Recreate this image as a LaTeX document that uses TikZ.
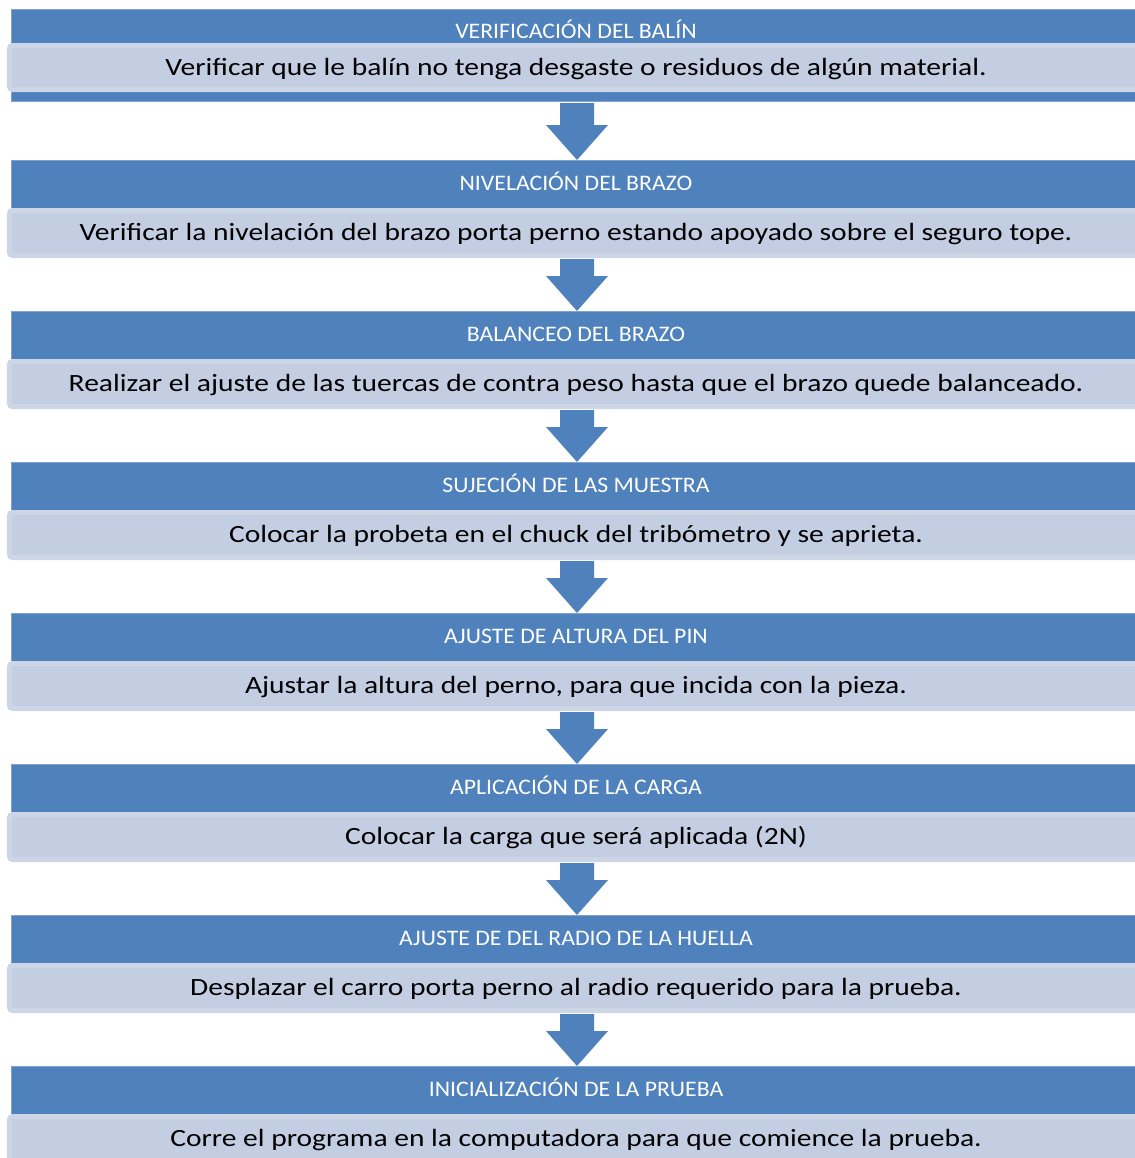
\documentclass[tikz,border=0pt]{standalone}
\usepackage{fontspec}
\setmainfont{Carlito}
\usetikzlibrary{calc}
\definecolor{darkblue}{HTML}{4F81BD}
\definecolor{barline}{HTML}{7FA3D0}
\definecolor{lightfill}{HTML}{C3CEE2}
\definecolor{lightedge}{HTML}{CDD6E7}
\newcommand\hdrfmt[1]{\scalebox{1.07}[1]{\fontsize{22.2bp}{24bp}\selectfont #1}}
\newcommand\bodyfmt[1]{\scalebox{1.19}[1]{\fontsize{24.8bp}{27bp}\selectfont #1}}
\tikzset{
  barbox/.style={fill=darkblue, draw=barline, line width=0.8bp, minimum width=1130bp, inner sep=0pt, outer sep=0pt},
  hdrtext/.style={text=white, inner sep=0pt, anchor=base},
  bodybox/.style={fill=lightfill, draw=lightedge, line width=5bp, rounded corners=3bp, minimum width=1133bp, minimum height=45bp, inner sep=0pt, outer sep=0pt},
  bodytext/.style={text=black, inner sep=0pt, anchor=base},
}
\newcommand\blockarrow[2]{%
  \fill[darkblue] let \p1=(#1), \p2=(#2) in
    (\x1-17bp,\y1) -- (\x1+17bp,\y1) -- (\x1+17bp,\y2+35bp) -- (\x1+31bp,\y2+35bp)
    -- (\x1,\y2) -- (\x1-31bp,\y2+35bp) -- (\x1-17bp,\y2+35bp) -- cycle;}
\begin{document}
\begin{tikzpicture}[x=1bp,y=-1bp]
\useasboundingbox (0,0) rectangle (1135,1158);
\clip (0,0) rectangle (1135,1158);
% block 1
\node[barbox, minimum height=92bp] (bar1) at (576,55) {};
\node[bodybox, minimum height=44bp] (b1) at (576,67.5) {};
\node[hdrtext] (h1) at (576,38.3) {\hdrfmt{VERIFICACIÓN DEL BALÍN}};
\node[bodytext] (t1) at (576,75.7) {\bodyfmt{Verificar que le balín no tenga desgaste o residuos de algún material.}};
% blocks 2..8
\foreach \k/\hd/\bd in {
  2/{NIVELACIÓN DEL BRAZO}/{Verificar la nivelación del brazo porta perno estando apoyado sobre el seguro tope.},
  3/{BALANCEO DEL BRAZO}/{Realizar el ajuste de las tuercas de contra peso hasta que el brazo quede balanceado.},
  4/{SUJECIÓN DE LAS MUESTRA}/{Colocar la probeta en el chuck del tribómetro y se aprieta.},
  5/{AJUSTE DE ALTURA DEL PIN}/{Ajustar la altura del perno, para que incida con la pieza.},
  6/{APLICACIÓN DE LA CARGA}/{Colocar la carga que será aplicada (2N)},
  7/{AJUSTE DE DEL RADIO DE LA HUELLA}/{Desplazar el carro porta perno al radio requerido para la prueba.},
  8/{INICIALIZACIÓN DE LA PRUEBA}/{Corre el programa en la computadora para que comience la prueba.}}{
  \pgfmathsetmacro\T{160+151*(\k-2)}
  \node[barbox, minimum height=48bp] (bar\k) at (576,\T+24) {};
  \node[bodybox] (b\k) at (576,\T+73) {};
  \node[hdrtext] (h\k) at (576,\T+30.6) {\hdrfmt{\hd}};
  \node[bodytext] (t\k) at (576,\T+80.8) {\bodyfmt{\bd}};
}
% arrows
\blockarrow{$(bar1.south)+(1,2)$}{$(bar2.north)+(1,0)$}
\foreach \a/\b in {2/3,3/4,4/5,5/6,6/7,7/8}{
  \blockarrow{$(b\a.south)+(1,3.5)$}{$(bar\b.north)+(1,0)$}
}
\end{tikzpicture}
\end{document}
